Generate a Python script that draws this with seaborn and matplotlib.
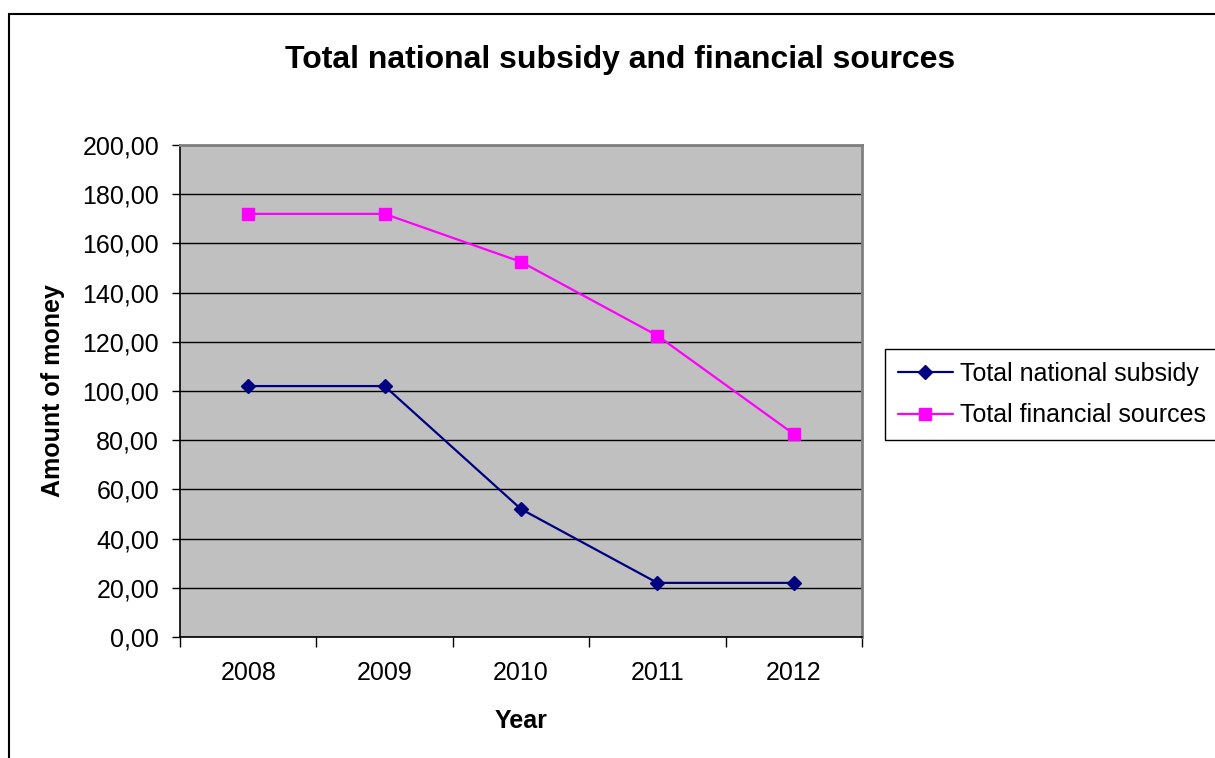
import matplotlib
matplotlib.use("Agg")
import matplotlib.pyplot as plt
from matplotlib.patches import Rectangle
from matplotlib.ticker import FuncFormatter, FixedLocator
import seaborn as sns
import pandas as pd

# data
years = ["2008", "2009", "2010", "2011", "2012"]
national_subsidy = [102, 102, 52, 22, 22]
financial_sources = [172, 172, 152.5, 122.5, 82.5]
series_names = ["Total national subsidy", "Total financial sources"]

df = pd.DataFrame({
    "Year": years * 2,
    "Value": national_subsidy + financial_sources,
    "Series": [series_names[0]] * len(years) + [series_names[1]] * len(years),
})

sns.set_theme(style="white")
plt.rcParams["font.family"] = ["Liberation Sans", "DejaVu Sans"]
plt.rcParams["text.color"] = "black"
plt.rcParams["axes.labelcolor"] = "black"
plt.rcParams["xtick.color"] = "black"
plt.rcParams["ytick.color"] = "black"

fig = plt.figure(figsize=(12.15, 7.58), dpi=100)
ax = fig.add_axes([180 / 1215, 1 - 637 / 758, (862 - 180) / 1215, (637 - 145) / 758])
ax.set_facecolor("#C0C0C0")

colors = ["#000080", "#FF00FF"]
sns.lineplot(
    data=df, x="Year", y="Value", hue="Series", style="Series",
    palette=colors, markers=["D", "s"], dashes=False,
    linewidth=1.6, ax=ax, sort=False,
)

handles, labels = ax.get_legend_handles_labels()


def style_marker(line):
    c = line.get_color()
    line.set_markeredgecolor(c)
    line.set_markerfacecolor(c)
    line.set_markeredgewidth(1)
    line.set_linewidth(1.6)
    if line.get_marker() == "D":
        line.set_markersize(7)
    else:
        line.set_markersize(8)


for line in list(ax.lines) + list(handles):
    style_marker(line)

ax.set_xlim(-0.5, len(years) - 0.5)
ax.set_ylim(0, 200)
ax.set_yticks(range(0, 201, 20))
ax.yaxis.set_major_formatter(FuncFormatter(lambda v, p: f"{v:.2f}".replace(".", ",")))
ax.grid(axis="y", color="black", linewidth=1)
ax.set_axisbelow(True)

# category ticks between labels, like a spreadsheet chart
ax.xaxis.set_minor_locator(FixedLocator([i - 0.5 for i in range(len(years) + 1)]))
ax.tick_params(axis="x", which="major", length=0, pad=17, labelsize=18)
ax.tick_params(axis="x", which="minor", length=7, width=1, direction="out", bottom=True)
ax.tick_params(axis="y", which="major", length=6, width=1, direction="out", left=True, pad=9,
               labelsize=18)

for side in ["top", "right"]:
    ax.spines[side].set_visible(True)
    ax.spines[side].set_color("#808080")
    ax.spines[side].set_linewidth(2)
for side in ["left", "bottom"]:
    ax.spines[side].set_visible(True)
    ax.spines[side].set_color("black")
    ax.spines[side].set_linewidth(1.2)

ax.set_xlabel("Year", fontsize=18, fontweight="bold")
ax.set_ylabel("Amount of money", fontsize=18, fontweight="bold")
ax.xaxis.set_label_coords(0.5, (637 - 709) / 492)
ax.yaxis.set_label_coords((65 - 180) / 682, 0.5)

fig.text(620 / 1215, 1 - 60 / 758, "Total national subsidy and financial sources",
         ha="center", va="center", fontsize=23, fontweight="bold")

ax.legend(handles, labels, loc="upper left", bbox_to_anchor=(885 / 1215, 1 - 349 / 758),
          bbox_transform=fig.transFigure, fontsize=18, frameon=True, fancybox=False,
          edgecolor="black", framealpha=1, borderaxespad=0, borderpad=0.5,
          handlelength=2.2, handletextpad=0.3, labelspacing=0.72)
ax.get_legend().get_frame().set_linewidth(1)

# outer chart border, cut off on the right and bottom
fig.patches.append(Rectangle((9 / 1215, -0.2), 1.2, 1 - 14 / 758 + 0.2, transform=fig.transFigure,
                             fill=False, edgecolor="black", linewidth=1.5, clip_on=False))

fig.savefig("out.png", dpi=100)
